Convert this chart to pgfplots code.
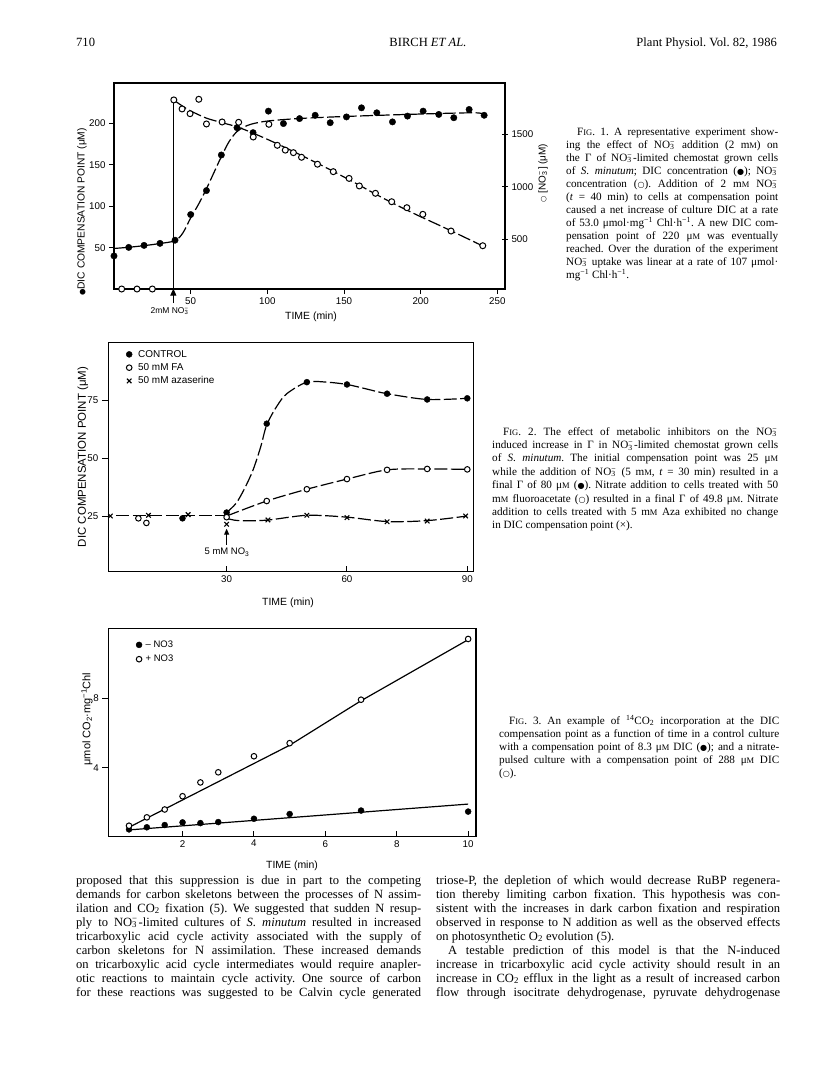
\documentclass[border=0pt]{standalone}
\usepackage{fontspec}
\setmainfont{Liberation Serif}
\newfontfamily\sans{Liberation Sans}
\newfontfamily\sym{DejaVu Sans}
\usepackage{graphicx}
\usepackage{pgfplots}
\pgfplotsset{compat=1.18}
\usetikzlibrary{arrows.meta}
\frenchspacing

\newcommand\sm[1]{\scalebox{0.76}{#1}}
\newcommand\no{NO\rlap{\textsuperscript{−}}\textsubscript{3}\kern0.12em}
\newcommand\fdot{\scalebox{0.72}{\sym ●}}
\newcommand\odt{\scalebox{0.72}{\sym ○}}
% justified line / plain line
\newcommand\Jl[4]{\node[anchor=base west,inner sep=0pt] at (#1,#2) {\hbox to #3bp{\spaceskip=.25em plus 1fil minus .1em\relax #4}};}
\newcommand\Pl[3]{\node[anchor=base west,inner sep=0pt] at (#1,#2) {#3};}

\pgfplotsset{
  base/.style={scale only axis, anchor=south west, clip=false,
    axis line style={line width=1.1bp, black},
    every tick/.style={line width=1bp, black},
    major tick length=5bp, tick pos=left,
    tick label style={font=\sans\fontsize{9.8}{10}\selectfont},
    /pgf/number format/assume math mode=true,
    /pgf/number format/1000 sep={}},
  cv/.style={black, line width=1.2bp, dash pattern=on 13bp off 3.5bp, smooth, no markers, forget plot},
  ln/.style={black, line width=1.2bp, no markers, forget plot},
  fm/.style={black, only marks, mark=*, mark size=3.2bp},
  om/.style={black, only marks, mark=*, mark size=3bp, mark options={fill=white, line width=1bp}},
  xm/.style={black, only marks, mark=x, mark size=3.2bp, mark options={line width=1.1bp}},
  legA/.style={legend image code/.code={\path[draw=none] (0cm,0cm) -- (0.38cm,0cm);
      \path[only marks, ##1, draw=none] plot coordinates {(0.1cm,0cm)};}},
  legB/.style={legend image code/.code={\path[draw=none] (0cm,0cm) -- (0.3cm,0cm);
      \path[only marks, ##1, draw=none] plot coordinates {(0.1cm,0cm)};}},
}

\begin{document}
\begin{tikzpicture}[x=1bp,y=-1bp]
\useasboundingbox (0,0) rectangle (816,1073);
\fill[white] (0,0) rectangle (816,1073);

% ---------- running head
\begin{scope}[font=\fontsize{12.6}{14}\selectfont]
\node[anchor=base west,inner sep=0pt] at (76,46) {710};
\node[anchor=base,inner sep=0pt] at (428,46) {BIRCH \textit{ET AL.}};
\node[anchor=base east,inner sep=0pt] at (777,46) {Plant Physiol. Vol. 82, 1986};
\end{scope}

% ---------- Fig. 1, DIC (left axis)
\begin{axis}[base, at={(114bp,-289bp)}, width=391bp, height=206bp,
  xmin=0, xmax=255, ymin=0, ymax=249,
  xtick={50,100,150,200,250}, ytick={50,100,150,200}, tick align=outside]
\addplot[cv] coordinates {(0,49) (10,50.5) (20,52.5) (30,55) (40,58.5) (45,68) (50,86)
  (55,102) (60,120) (65,140) (70,160) (75,178) (80,190) (85,196) (90,199.5) (100,203)
  (120,206) (150,208.5) (200,211.5) (235,213) (241,211)};
\addplot[fm] coordinates {(0,40) (9.6,50.3) (19.6,52.7) (30,55.2) (39.8,59) (50,90)
  (60.3,119) (70,162) (80.2,195) (90.7,189) (100.7,215) (110.5,200) (121,206) (131.2,210)
  (141,201) (151.6,208) (161.4,219) (171.4,213) (181.6,202) (191.4,209) (201.6,215)
  (211.8,211) (221.6,207) (231.6,217) (241.4,210)};
\draw[line width=1bp, -{Triangle[width=6bp,length=7bp]}] (axis cs:38.7,-17) -- (axis cs:38.7,0.5);
\end{axis}

% ---------- Fig. 1, nitrate (right axis)
\begin{axis}[base, at={(114bp,-289bp)}, width=391bp, height=206bp,
  xmin=0, xmax=255, ymin=27, ymax=1988,
  axis x line=none, axis y line*=right, ytick pos=right,
  ytick={500,1000,1500}, tick align=center, major tick length=6bp]
\addplot[ln, line width=1.1bp] coordinates {(38.7,27) (38.7,1827)};
\addplot[cv] coordinates {(40,1815) (45,1765) (50,1722) (60,1655) (70,1612) (80,1572)
  (90,1515) (100,1452) (110,1385) (120,1315) (130,1243) (140,1170) (150,1093) (160,1015)
  (170,935) (180,858) (190,785) (200,715) (210,648) (220,580) (230,510) (240,440)};
\addplot[om] coordinates {(5,27) (15,27) (25,27) (39,1827) (44.4,1741) (49.6,1696)
  (55.3,1833) (60.3,1598) (70.5,1617) (81.3,1614) (90.8,1474) (101,1595) (106.5,1395)
  (111.7,1349) (117,1325) (122.3,1281) (132.7,1215) (143,1144) (153.3,1080) (160,1008)
  (170.5,938) (181.1,858) (191,801) (201.4,738) (219.8,579) (240.5,439)};
\end{axis}

\node[rotate=90, font=\sans\fontsize{10.3}{12}\selectfont] at (82,212) {\fdot DIC COMPENSATION POINT (μM)};
\node[rotate=90, font=\sans\fontsize{10}{12}\selectfont] at (543,173) {\odt\ [\no] (μM)};
\node[font=\sans\fontsize{8.5}{10}\selectfont] at (170,311) {2mM \no};
\node[font=\sans\fontsize{10.5}{12}\selectfont] at (311,317) {TIME (min)};

% ---------- Fig. 2
\begin{axis}[base, at={(108.3bp,-571.7bp)}, width=365bp, height=229bp,
  xmin=0.5, xmax=91.5, ymin=0.86, ymax=100.1,
  xtick={30,60,90}, ytick=\empty, tick align=inside, major tick length=6bp,
  legend style={at={(0.0485,0.975)}, anchor=north west, draw=none, fill=none,
    inner sep=0pt, row sep=1.8bp, font=\sans\fontsize{10}{12}\selectfont,
    nodes={inner sep=1bp, text height=7.5bp, text depth=2bp}},
  legend cell align=left]
\addplot[cv] coordinates {(2.5,25.2) (30,25.2)};
\addplot[cv] coordinates {(30,26.5) (32.4,30.6) (34.5,37) (36.6,45) (38.5,55) (40,64.5)
  (42.5,72.5) (45,78) (50,83) (55,83) (60,82) (65,80) (70,78) (80,75.5) (90,76)};
\addplot[cv] coordinates {(30,25) (40,31.5) (50,36.6) (60,41) (70,45) (80,45.4) (90,45.2)};
\addplot[cv] coordinates {(30,24) (33,23) (40,23.2) (50,25.3) (60,24.5) (70,22.6) (80,23) (90,25)};
\addplot[fm, mark size=3bp, legA] coordinates {(19,24) (30,26.5) (40,65) (50,83) (60,82)
  (70,78) (80,75.5) (90,76)};
\addlegendentry{CONTROL}
\addplot[om, mark size=2.8bp, legA] coordinates {(8,24) (10,22) (30,24.5) (40,31.5) (50,36.6)
  (60,41) (70,45) (80,45.4) (90,45.2)};
\addlegendentry{50 mM FA}
\addplot[xm, legA] coordinates {(1,25) (10.5,25.3) (20.4,25.6) (30,21.4) (40.3,23.3)
  (50,25.3) (60,24.3) (70,22.5) (80,22.8) (89.6,25)};
\addlegendentry{50 mM azaserine}
\draw[line width=1bp, -{Triangle[width=5bp,length=6bp]}] (axis cs:30,12.5) -- (axis cs:30,19.5);
\end{axis}
\begin{axis}[base, at={(108.3bp,-571.7bp)}, width=365bp, height=229bp,
  xmin=0.5, xmax=91.5, ymin=0.86, ymax=100.1,
  axis x line=none, axis y line*=left, ytick={25,50,75}, tick align=outside, major tick length=6.5bp]
\end{axis}

\node[rotate=90, font=\sans\fontsize{11.5}{12}\selectfont] at (83,457) {DIC COMPENSATION POINT (μM)};
\node[font=\sans\fontsize{9.5}{10}\selectfont] at (227,552) {5 mM NO\textsubscript{3}};
\node[font=\sans\fontsize{10.5}{12}\selectfont] at (288,603) {TIME (min)};

% ---------- Fig. 3
\begin{axis}[base, at={(108.3bp,-836.7bp)}, width=367.7bp, height=208.4bp,
  xmin=-0.08, xmax=10.22, ymin=0.06, ymax=12,
  xtick={2,4,6,8,10}, ytick=\empty, tick align=inside, major tick length=6bp,
  legend style={at={(0.075,0.949)}, anchor=north west, draw=none, fill=none,
    inner sep=0pt, row sep=2.8bp, font=\sans\fontsize{9.5}{12}\selectfont,
    nodes={inner sep=1bp, text height=7.5bp, text depth=2bp}},
  legend cell align=left]
\addplot[ln] coordinates {(0.5,0.45) (10,1.93)};
\addplot[ln] coordinates {(0.5,0.6) (5,5.3) (7,7.85) (10,11.35)};
\addplot[fm, mark size=3bp, legB] coordinates {(0.5,0.48) (1,0.6) (1.5,0.73) (2,0.88) (2.5,0.84)
  (3,0.9) (4,1.09) (5,1.36) (7,1.56) (10,1.5)};
\addlegendentry{– NO3}
\addplot[om, mark size=2.8bp, legB] coordinates {(0.5,0.69) (1,1.17) (1.5,1.62) (2,2.38) (2.5,3.17)
  (3,3.75) (4,4.67) (5,5.42) (7,7.91) (10,11.39)};
\addlegendentry{+ NO3}
\end{axis}
\begin{axis}[base, at={(108.3bp,-836.7bp)}, width=367.7bp, height=208.4bp,
  xmin=-0.08, xmax=10.22, ymin=0.06, ymax=12,
  axis x line=none, axis y line*=left, ytick={4,8}, tick align=outside, major tick length=6bp]
\end{axis}

\node[rotate=90, font=\sans\fontsize{11}{12}\selectfont] at (87,719) {μmol CO\textsubscript{2}·mg\textsuperscript{−1}Chl};
\node[font=\sans\fontsize{10.5}{12}\selectfont] at (292,866) {TIME (min)};

% ---------- captions
\begin{scope}[font=\fontsize{11.2}{13}\selectfont]
\Jl{577}{135}{201}{F\sm{IG}. 1. A representative experiment show-}
\Jl{566}{148}{212}{ing the effect of \no{} addition (2 m\sm{M}) on}
\Jl{566}{161}{212}{the Γ of \no-limited chemostat grown cells}
\Jl{566}{174}{212}{of \textit{S. minutum}; DIC concentration (\fdot); \no}
\Jl{566}{187}{212}{concentration (\odt). Addition of 2 m\sm{M} \no}
\Jl{566}{200}{212}{(\textit{t} = 40 min) to cells at compensation point}
\Jl{566}{213}{212}{caused a net increase of culture DIC at a rate}
\Jl{566}{226}{212}{of 53.0 μmol·mg\textsuperscript{−1} Chl·h\textsuperscript{−1}. A new DIC com-}
\Jl{566}{239}{212}{pensation point of 220 μ\sm{M} was eventually}
\Jl{566}{252}{212}{reached. Over the duration of the experiment}
\Jl{566}{265}{212}{\no{} uptake was linear at a rate of 107 μmol·}
\Pl{566}{278}{mg\textsuperscript{−1} Chl·h\textsuperscript{−1}.}

\Jl{503}{435}{275}{F\sm{IG}. 2. The effect of metabolic inhibitors on the \no}
\Jl{492}{448.4}{286}{induced increase in Γ in \no-limited chemostat grown cells}
\Jl{492}{461.8}{286}{of \textit{S. minutum}. The initial compensation point was 25 μ\sm{M}}
\Jl{492}{475.2}{286}{while the addition of \no{} (5 m\sm{M}, \textit{t} = 30 min) resulted in a}
\Jl{492}{488.6}{286}{final Γ of 80 μ\sm{M} (\fdot). Nitrate addition to cells treated with 50}
\Jl{492}{502}{286}{m\sm{M} fluoroacetate (\odt) resulted in a final Γ of 49.8 μ\sm{M}. Nitrate}
\Jl{492}{515.4}{286}{addition to cells treated with 5 m\sm{M} Aza exhibited no change}
\Pl{492}{528.8}{in DIC compensation point (×).}

\Jl{509}{724}{270}{F\sm{IG}. 3. An example of \textsuperscript{14}CO\textsubscript{2} incorporation at the DIC}
\Jl{499}{737}{280}{compensation point as a function of time in a control culture}
\Jl{499}{750}{280}{with a compensation point of 8.3 μ\sm{M} DIC (\fdot); and a nitrate-}
\Jl{499}{763}{280}{pulsed culture with a compensation point of 288 μ\sm{M} DIC}
\Pl{499}{776}{(\odt).}
\end{scope}

% ---------- body text
\begin{scope}[font=\fontsize{12.6}{14}\selectfont]
\Jl{76}{884}{345}{proposed that this suppression is due in part to the competing}
\Jl{76}{898}{345}{demands for carbon skeletons between the processes of N assim-}
\Jl{76}{912}{345}{ilation and CO\textsubscript{2} fixation (5). We suggested that sudden N resup-}
\Jl{76}{926}{345}{ply to \no-limited cultures of \textit{S. minutum} resulted in increased}
\Jl{76}{940}{345}{tricarboxylic acid cycle activity associated with the supply of}
\Jl{76}{954}{345}{carbon skeletons for N assimilation. These increased demands}
\Jl{76}{968}{345}{on tricarboxylic acid cycle intermediates would require anapler-}
\Jl{76}{982}{345}{otic reactions to maintain cycle activity. One source of carbon}
\Jl{76}{996}{345}{for these reactions was suggested to be Calvin cycle generated}

\Jl{436}{884}{344}{triose-P, the depletion of which would decrease RuBP regenera-}
\Jl{436}{898}{344}{tion thereby limiting carbon fixation. This hypothesis was con-}
\Jl{436}{912}{344}{sistent with the increases in dark carbon fixation and respiration}
\Jl{436}{926}{344}{observed in response to N addition as well as the observed effects}
\Pl{436}{940}{on photosynthetic O\textsubscript{2} evolution (5).}
\Jl{448}{954}{332}{A testable prediction of this model is that the N-induced}
\Jl{436}{968}{344}{increase in tricarboxylic acid cycle activity should result in an}
\Jl{436}{982}{344}{increase in CO\textsubscript{2} efflux in the light as a result of increased carbon}
\Jl{436}{996}{344}{flow through isocitrate dehydrogenase, pyruvate dehydrogenase}
\end{scope}
\end{tikzpicture}
\end{document}
